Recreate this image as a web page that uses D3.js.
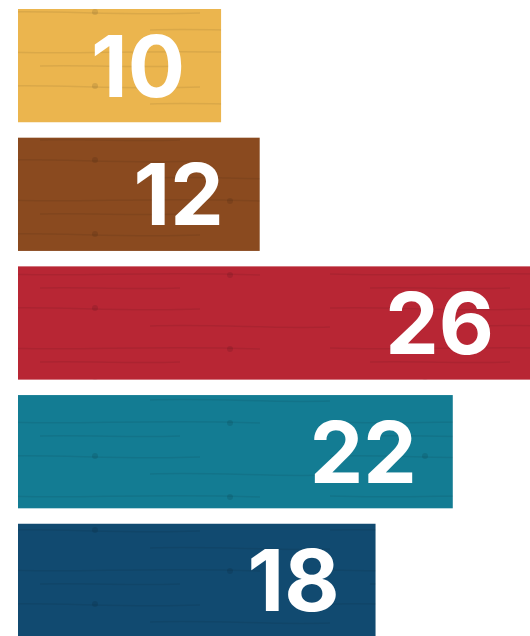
<!doctype html>
<html>
<head>
<meta charset="utf-8">
<style>
    body { margin: 0; background: #fff; }
    .label {
        fill: #fff;
        font-family: Inter, "Open Sans", sans-serif;
        font-weight: 700;
        font-size: 85px;
    }
</style>
<script src="https://d3js.org/d3.v7.min.js"></script>
</head>
<body>
<svg width="530" height="636" id="chart"></svg>
<script>
    // data
    var categories = ["a", "b", "c", "d", "e"];
    var values = [10, 12, 26, 22, 18];
    var colors = ["#ebb54e", "#8a4a1f", "#b82634", "#137c93", "#114a70"];

    var svg = d3.select("#chart"),
        width = +svg.attr("width"),
        height = +svg.attr("height");

    var left = 18;

    var x = d3.scaleLinear().domain([0, 26]).range([10, 512]);
    var y = d3.scaleBand().domain(categories).range([9, 637]).paddingInner(0.12);

    // faint wood grain texture
    var defs = svg.append("defs");
    var pat = defs.append("pattern")
        .attr("id", "grain")
        .attr("patternUnits", "userSpaceOnUse")
        .attr("width", 330)
        .attr("height", 74);
    pat.append("path")
        .attr("d", "M0,12 C60,10 120,16 200,13 M150,30 C220,28 270,33 330,31 M0,52 C80,55 150,49 260,53 M40,66 C100,65 130,68 180,66")
        .attr("fill", "none")
        .attr("stroke", "#000")
        .attr("stroke-opacity", 0.07)
        .attr("stroke-width", 1.5);
    pat.append("circle").attr("cx", 95).attr("cy", 12).attr("r", 3).attr("fill", "#000").attr("fill-opacity", 0.1);
    pat.append("circle").attr("cx", 230).attr("cy", 53).attr("r", 3).attr("fill", "#000").attr("fill-opacity", 0.1);

    var g = svg.append("g");

    var bars = g.selectAll(".bar")
        .data(values)
        .enter().append("g")
        .attr("class", "bar");

    bars.append("rect")
        .attr("x", left)
        .attr("y", function(d, i) { return y(categories[i]); })
        .attr("width", function(d) { return x(d); })
        .attr("height", y.bandwidth())
        .attr("fill", function(d, i) { return colors[i]; });

    bars.append("rect")
        .attr("x", left)
        .attr("y", function(d, i) { return y(categories[i]); })
        .attr("width", function(d) { return x(d); })
        .attr("height", y.bandwidth())
        .attr("fill", "url(#grain)");

    bars.append("text")
        .attr("class", "label")
        .attr("text-anchor", "end")
        .attr("x", function(d) { return left + x(d) - 36; })
        .attr("y", function(d, i) { return y(categories[i]) + y.bandwidth() / 2 + 31; })
        .text(function(d) { return d; });
</script>
</body>
</html>
